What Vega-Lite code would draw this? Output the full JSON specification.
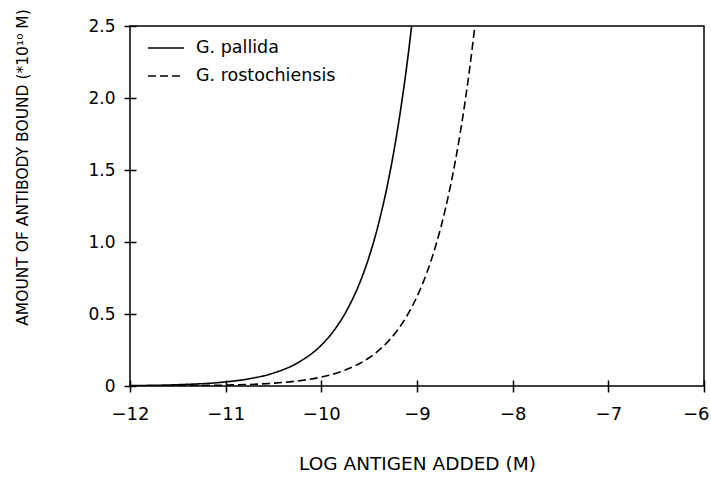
{
  "$schema": "https://vega.github.io/schema/vega-lite/v6.json",
  "width": 574,
  "height": 360,
  "autosize": {"type": "none"},
  "padding": {"left": 130, "top": 26, "right": 7, "bottom": 92},
  "background": "white",
  "config": {
    "font": "DejaVu Sans",
    "view": {"stroke": "black", "strokeWidth": 1.5}
  },
  "data": {
    "values": [
      {"species": "G. pallida", "logAg": -12.0, "bound": 0.0028},
      {"species": "G. pallida", "logAg": -11.5, "bound": 0.009},
      {"species": "G. pallida", "logAg": -11.0, "bound": 0.0284},
      {"species": "G. pallida", "logAg": -10.75, "bound": 0.0506},
      {"species": "G. pallida", "logAg": -10.5, "bound": 0.0899},
      {"species": "G. pallida", "logAg": -10.25, "bound": 0.16},
      {"species": "G. pallida", "logAg": -10.0, "bound": 0.284},
      {"species": "G. pallida", "logAg": -9.9, "bound": 0.358},
      {"species": "G. pallida", "logAg": -9.8, "bound": 0.451},
      {"species": "G. pallida", "logAg": -9.7, "bound": 0.568},
      {"species": "G. pallida", "logAg": -9.6, "bound": 0.714},
      {"species": "G. pallida", "logAg": -9.5, "bound": 0.899},
      {"species": "G. pallida", "logAg": -9.4, "bound": 1.132},
      {"species": "G. pallida", "logAg": -9.3, "bound": 1.425},
      {"species": "G. pallida", "logAg": -9.2, "bound": 1.795},
      {"species": "G. pallida", "logAg": -9.1, "bound": 2.259},
      {"species": "G. pallida", "logAg": -9.056, "bound": 2.5},
      {"species": "G. rostochiensis", "logAg": -12.0, "bound": 0.0006},
      {"species": "G. rostochiensis", "logAg": -11.5, "bound": 0.002},
      {"species": "G. rostochiensis", "logAg": -11.0, "bound": 0.0062},
      {"species": "G. rostochiensis", "logAg": -10.5, "bound": 0.0196},
      {"species": "G. rostochiensis", "logAg": -10.25, "bound": 0.0349},
      {"species": "G. rostochiensis", "logAg": -10.0, "bound": 0.0621},
      {"species": "G. rostochiensis", "logAg": -9.75, "bound": 0.1104},
      {"species": "G. rostochiensis", "logAg": -9.5, "bound": 0.1963},
      {"species": "G. rostochiensis", "logAg": -9.4, "bound": 0.2471},
      {"species": "G. rostochiensis", "logAg": -9.3, "bound": 0.3111},
      {"species": "G. rostochiensis", "logAg": -9.2, "bound": 0.3917},
      {"species": "G. rostochiensis", "logAg": -9.1, "bound": 0.4931},
      {"species": "G. rostochiensis", "logAg": -9.0, "bound": 0.6208},
      {"species": "G. rostochiensis", "logAg": -8.9, "bound": 0.7815},
      {"species": "G. rostochiensis", "logAg": -8.8, "bound": 0.9839},
      {"species": "G. rostochiensis", "logAg": -8.7, "bound": 1.2386},
      {"species": "G. rostochiensis", "logAg": -8.6, "bound": 1.5593},
      {"species": "G. rostochiensis", "logAg": -8.5, "bound": 1.9631},
      {"species": "G. rostochiensis", "logAg": -8.45, "bound": 2.2026},
      {"species": "G. rostochiensis", "logAg": -8.395, "bound": 2.5}
    ]
  },
  "mark": {"type": "line", "color": "black", "strokeWidth": 1.6, "clip": true, "interpolate": "monotone"},
  "encoding": {
    "x": {
      "field": "logAg",
      "type": "quantitative",
      "scale": {"domain": [-12, -6], "nice": false, "zero": false},
      "axis": {
        "title": "LOG ANTIGEN ADDED (M)",
        "values": [-12, -11, -10, -9, -8, -7, -6],
        "format": "d",
        "domain": false,
        "grid": false,
        "offset": -6,
        "tickSize": 12,
        "tickColor": "black",
        "tickWidth": 1.5,
        "labelFontSize": 18,
        "labelColor": "black",
        "labelPadding": 13,
        "labelFlush": false,
        "labelAlign": {"condition": {"test": "datum.value == -6", "value": "right"}, "value": "center"},
        "labelOffset": {"condition": {"test": "datum.value == -6", "value": 5}, "value": 0},
        "titleFontSize": 18.5,
        "titleFontWeight": "normal",
        "titleColor": "black",
        "titleBaseline": "middle",
        "titleY": 83
      }
    },
    "y": {
      "field": "bound",
      "type": "quantitative",
      "scale": {"domain": [0, 2.5], "nice": false},
      "axis": {
        "title": "AMOUNT OF ANTIBODY BOUND (*10¹⁰ M)",
        "values": [0, 0.5, 1, 1.5, 2, 2.5],
        "labelExpr": "datum.value == 0 ? '0' : format(datum.value, '.1f')",
        "domain": false,
        "grid": false,
        "offset": -6,
        "tickSize": 12,
        "tickColor": "black",
        "tickWidth": 1.5,
        "labelFontSize": 17,
        "labelColor": "black",
        "labelPadding": 9,
        "labelFlush": false,
        "titleFontSize": 15.5,
        "titleFontWeight": "normal",
        "titleColor": "black",
        "titleBaseline": "middle",
        "titleX": -114,
        "titleY": 141
      }
    },
    "strokeDash": {
      "field": "species",
      "type": "nominal",
      "scale": {"domain": ["G. pallida", "G. rostochiensis"], "range": [[1, 0], [8, 4]]},
      "legend": {
        "orient": "none",
        "legendX": 17,
        "legendY": 3,
        "title": null,
        "padding": 0,
        "symbolType": "stroke",
        "symbolSize": 1296,
        "symbolStrokeWidth": 1.6,
        "symbolStrokeColor": "black",
        "labelFontSize": 17.5,
        "labelColor": "black",
        "labelOffset": 11,
        "rowPadding": -9
      }
    }
  }
}
